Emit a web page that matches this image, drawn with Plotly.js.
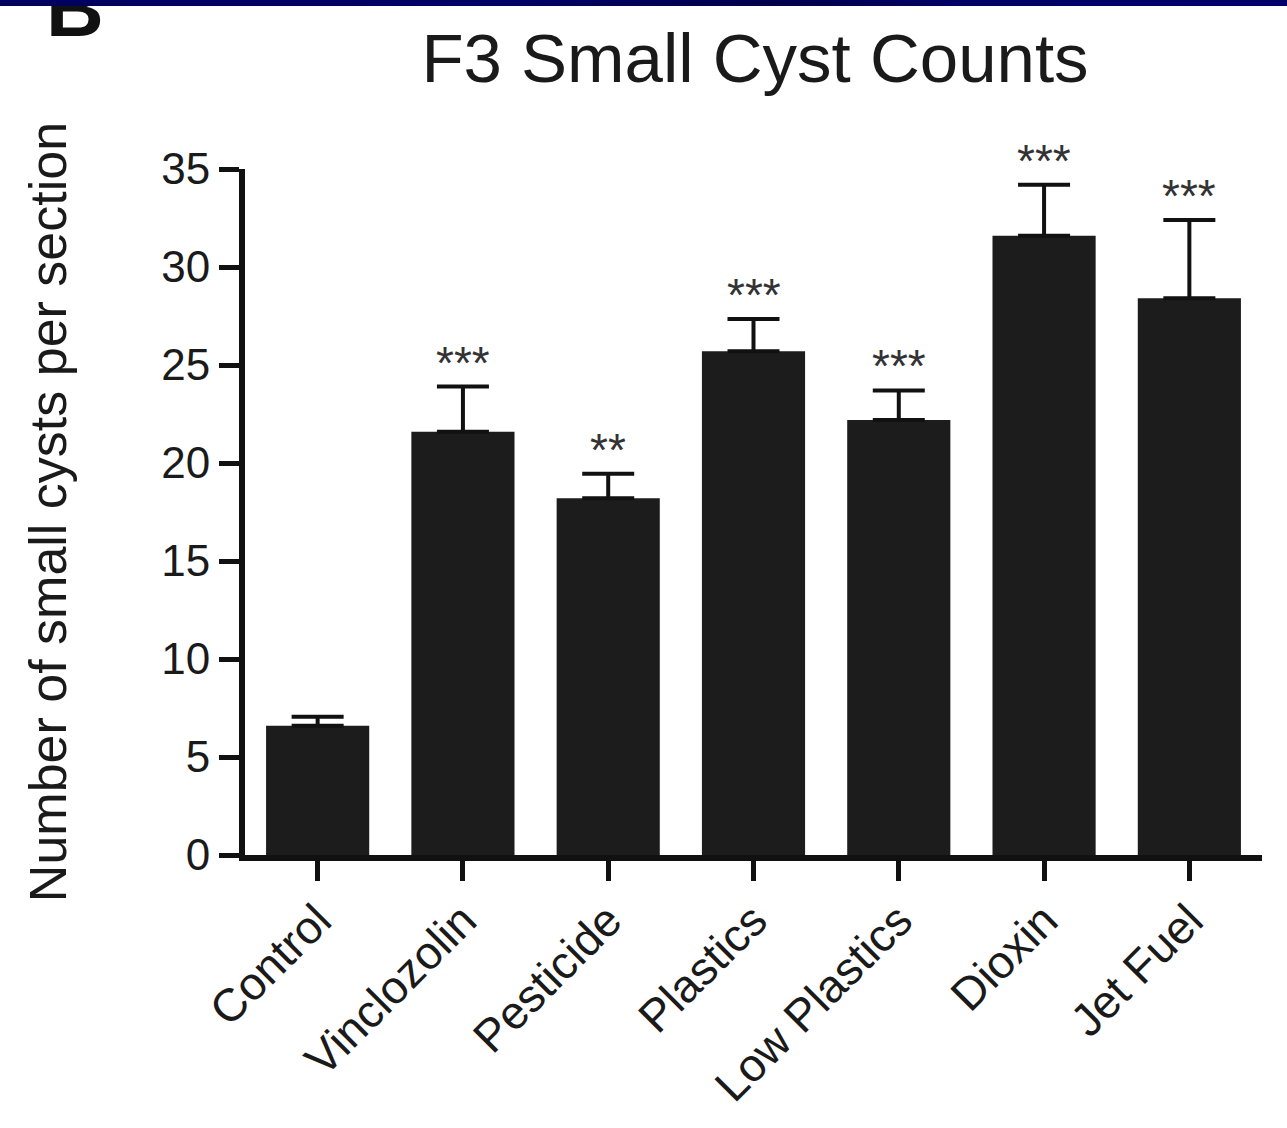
<!DOCTYPE html>
<html>
<head>
<meta charset="utf-8">
<script src="https://cdn.plot.ly/plotly-3.0.1.min.js"></script>
<style>
  html, body { margin: 0; padding: 0; background: #ffffff; }
  #chart { width: 1287px; height: 1128px; }
  #band {
    position: absolute; left: 0; top: 0; width: 1287px; height: 6px;
    background: linear-gradient(90deg, #00005e 0%, #000066 40%, #00004a 60%, #000066 75%, #00006a 100%);
  }
</style>
</head>
<body>
<div id="chart"></div>
<div id="band"></div>
<script>
// F3 generation: small cyst counts per section by exposure lineage
const categories = ['Control', 'Vinclozolin', 'Pesticide', 'Plastics', 'Low Plastics', 'Dioxin', 'Jet Fuel'];
const meanCounts = [6.6, 21.6, 18.2, 25.7, 22.2, 31.6, 28.4];
const semCounts  = [0.45, 2.3, 1.25, 1.65, 1.5, 2.6, 4.0];
const significance = ['', '***', '**', '***', '***', '***', '***'];
const yTicks = [0, 5, 10, 15, 20, 25, 30, 35];

const FONT = 'Liberation Sans, Arial, Helvetica, sans-serif';
const INK = '#1a1a1a';

// plot area in pixels, used to place the panel letter in paper units
const M = { l: 245, r: 25, t: 169, b: 273 };
const W = 1287, H = 1128;
const plotW = W - M.l - M.r, plotH = H - M.t - M.b;
const pxToPaperX = px => (px - M.l) / plotW;
const pxToPaperY = py => (H - M.b - py) / plotH;

const bars = {
  type: 'bar',
  x: categories,
  y: meanCounts,
  marker: { color: '#1c1c1c', line: { width: 0 } },
  error_y: {
    type: 'data',
    symmetric: false,
    array: semCounts,
    arrayminus: semCounts.map(() => 0),
    color: '#111111',
    thickness: 4,
    width: 26
  },
  hoverinfo: 'x+y'
};

const starNotes = categories.map((c, i) => ({
  x: c,
  y: meanCounts[i] + semCounts[i],
  xref: 'x', yref: 'y',
  text: significance[i],
  showarrow: false,
  yanchor: 'bottom',
  yshift: -4,
  font: { family: FONT, size: 46, color: '#333333' }
}));

const layout = {
  width: W,
  height: H,
  margin: M,
  paper_bgcolor: '#ffffff',
  plot_bgcolor: '#ffffff',
  showlegend: false,
  bargap: 0.29,
  font: { family: FONT, color: INK },
  title: {
    text: 'F3 Small Cyst Counts',
    font: { family: FONT, size: 69, color: INK },
    x: 755 / W, xref: 'container', xanchor: 'center',
    y: 1 - 58 / H, yref: 'container', yanchor: 'middle'
  },
  xaxis: {
    type: 'category',
    range: [-0.5, 6.5],
    showline: true, linecolor: '#111111', linewidth: 6,
    ticks: 'outside', ticklen: 20, tickwidth: 5, tickcolor: '#111111',
    tickangle: -45,
    ticklabelstandoff: -6,
    tickfont: { family: FONT, size: 46, color: INK },
    showgrid: false, zeroline: false, fixedrange: true
  },
  yaxis: {
    range: [0, 35],
    tickvals: yTicks,
    ticktext: yTicks.map(String),
    showline: true, linecolor: '#111111', linewidth: 6,
    ticks: 'outside', ticklen: 20, tickwidth: 5, tickcolor: '#111111',
    tickfont: { family: FONT, size: 44, color: INK },
    showgrid: false, zeroline: false, fixedrange: true,
    title: {
      text: 'Number of small cysts per section',
      font: { family: FONT, size: 52, color: INK },
      standoff: 80
    }
  },
  annotations: starNotes.concat([{
    text: '<b>B</b>',
    xref: 'paper', yref: 'paper',
    x: pxToPaperX(75), xanchor: 'center',
    y: pxToPaperY(55), yanchor: 'bottom',
    showarrow: false,
    font: { family: FONT, size: 80, color: '#111111' }
  }])
};

Plotly.newPlot('chart', [bars], layout, { displayModeBar: false, staticPlot: true });
</script>
</body>
</html>
